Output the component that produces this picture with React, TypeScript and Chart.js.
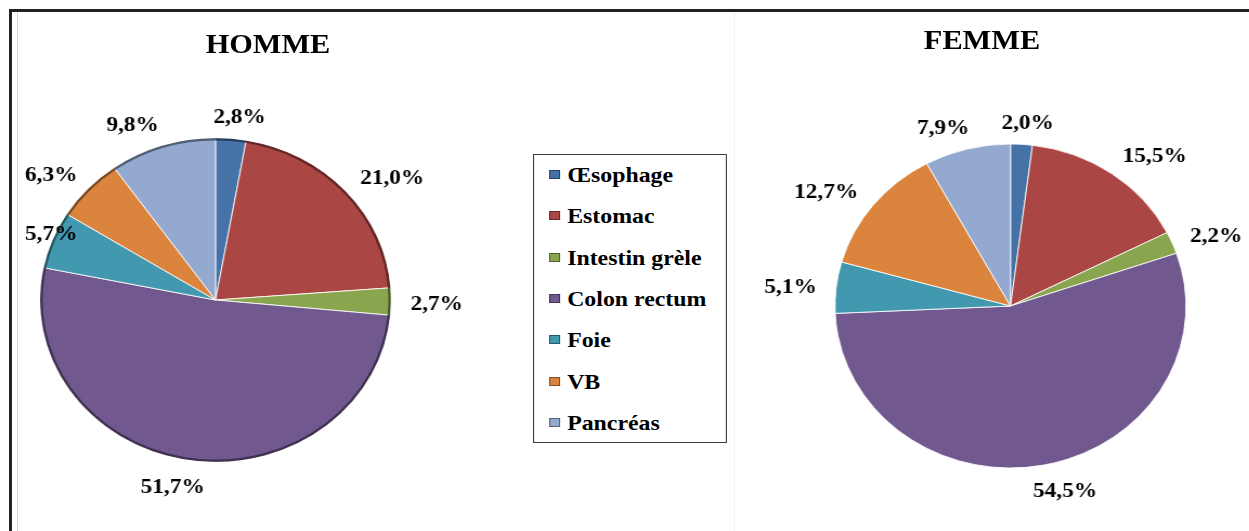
import React, { useEffect, useRef } from 'react';
import { Chart, registerables } from 'chart.js';

Chart.register(...registerables);

// ---------- data ----------
const categories = ['Œsophage', 'Estomac', 'Intestin grèle', 'Colon rectum', 'Foie', 'VB', 'Pancréas'];
const hommeValues = [2.8, 21.0, 2.7, 51.7, 5.7, 6.3, 9.8];
const femmeValues = [2.0, 15.5, 2.2, 54.5, 5.1, 12.7, 7.9];
const sliceColors = ['#4572A7', '#AA4643', '#89A54E', '#71588F', '#4198AF', '#DB843D', '#93A9CF'];
const chartTitles = ['HOMME', 'FEMME'];

// ---------- layout ----------
const STRETCH = 175.5 / 162; // the reference picture is stretched horizontally
const SCENE_W = 1249 / STRETCH;
const RADIUS = 162;
const SERIF = '"Liberation Serif", "Times New Roman", serif';

function fmt(v: number): string {
  return v.toFixed(1).replace('.', ',') + '%';
}

function darken(hex: string, k: number): string {
  const n = parseInt(hex.slice(1), 16);
  const r = Math.round(((n >> 16) & 255) * (1 - k));
  const g = Math.round(((n >> 8) & 255) * (1 - k));
  const b = Math.round((n & 255) * (1 - k));
  return `rgb(${r},${g},${b})`;
}

const pieDecor = {
  id: 'pieDecor',
  afterDatasetsDraw(chart: any, _args: any, opts: any) {
    const ctx = chart.ctx as CanvasRenderingContext2D;
    const meta = chart.getDatasetMeta(0);
    const ds = chart.data.datasets[0];
    ctx.save();
    if (opts.rim) {
      meta.data.forEach((arc: any, i: number) => {
        const p = arc.getProps(['x', 'y', 'startAngle', 'endAngle', 'outerRadius'], true);
        ctx.beginPath();
        ctx.arc(p.x, p.y, p.outerRadius - 1.3, p.startAngle, p.endAngle);
        ctx.strokeStyle = darken(ds.backgroundColor[i], 0.45);
        ctx.lineWidth = 2.2;
        ctx.stroke();
      });
    }
    ctx.font = opts.font;
    ctx.fillStyle = opts.color;
    ctx.textAlign = 'center';
    ctx.textBaseline = 'middle';
    meta.data.forEach((arc: any, i: number) => {
      const p = arc.getProps(['x', 'y', 'startAngle', 'endAngle', 'outerRadius'], true);
      const a = (p.startAngle + p.endAngle) / 2;
      const text = fmt(ds.data[i]);
      const w = ctx.measureText(text).width;
      const h = opts.lineHeight;
      const c = Math.cos(a);
      const s = Math.sin(a);
      let x = p.x + (p.outerRadius + opts.hx) * c + Math.sign(c) * (w / 2) * Math.min(1, opts.wk * Math.abs(c));
      let y = p.y + (p.outerRadius + opts.vy) * s + opts.yShift;
      x = Math.min(Math.max(x, w / 2 + opts.margin), chart.width - w / 2 - opts.margin);
      y = Math.min(Math.max(y, h / 2 + opts.margin), chart.height - h / 2 - opts.margin);
      ctx.fillText(text, x, y);
    });
    ctx.restore();
  },
};

type PieProps = {
  values: number[];
  left: number;
  top: number;
  width: number;
  height: number;
  cx: number;
  cy: number;
  rim: boolean;
};

function Pie({ values, left, top, width, height, cx, cy, rim }: PieProps) {
  const ref = useRef<HTMLCanvasElement | null>(null);
  useEffect(() => {
    if (!ref.current) return;
    const lx = cx - left;
    const ly = cy - top;
    const padL = lx > width / 2 ? 2 * (lx - width / 2) : 0;
    const padR = lx < width / 2 ? 2 * (width / 2 - lx) : 0;
    const padT = ly > height / 2 ? 2 * (ly - height / 2) : 0;
    const padB = ly < height / 2 ? 2 * (height / 2 - ly) : 0;
    const chart = new Chart(ref.current, {
      type: 'pie',
      data: {
        labels: categories,
        datasets: [
          {
            data: values,
            backgroundColor: sliceColors,
            borderColor: 'rgba(255,255,255,0.85)',
            borderWidth: 1,
            radius: RADIUS,
          } as any,
        ],
      },
      options: {
        responsive: false,
        animation: false,
        radius: RADIUS,
        layout: { padding: { left: padL, right: padR, top: padT, bottom: padB } },
        plugins: {
          legend: { display: false },
          tooltip: { enabled: false },
          title: { display: false },
          pieDecor: {
            rim,
            font: `bold 21.5px ${SERIF}`,
            color: '#000',
            lineHeight: 20,
            hx: 18,
            vy: 24,
            wk: 3,
            yShift: 3,
            margin: 6,
          },
        } as any,
      } as any,
      plugins: [pieDecor as any],
    });
    return () => chart.destroy();
  }, [values, left, top, width, height, cx, cy, rim]);
  return (
    <canvas
      ref={ref}
      width={width}
      height={height}
      style={{ position: 'absolute', left, top, width, height }}
    />
  );
}

function Legend() {
  const rowH = 41.3;
  return (
    <div
      style={{
        position: 'absolute',
        left: 533 / STRETCH,
        top: 154,
        width: (727 - 533) / STRETCH,
        height: rowH * categories.length,
        boxSizing: 'border-box',
        border: '1px solid #3a3a3a',
        background: '#fff',
      }}
    >
      {categories.map((name, i) => (
        <div
          key={name}
          style={{
            position: 'absolute',
            left: 0,
            top: i * rowH - 1,
            height: rowH,
            display: 'flex',
            alignItems: 'center',
            whiteSpace: 'nowrap',
          }}
        >
          <span
            style={{
              display: 'inline-block',
              marginLeft: 13.5,
              width: 10,
              height: 9,
              boxSizing: 'border-box',
              background: sliceColors[i],
              border: `1px solid ${darken(sliceColors[i], 0.4)}`,
            }}
          />
          <span
            style={{
              marginLeft: 7,
              fontFamily: SERIF,
              fontWeight: 'bold',
              fontSize: 22,
              lineHeight: rowH + 'px',
              color: '#000',
            }}
          >
            {name}
          </span>
        </div>
      ))}
    </div>
  );
}

function Title({ text, cx, cy }: { text: string; cx: number; cy: number }) {
  return (
    <div
      style={{
        position: 'absolute',
        left: cx - 150,
        top: cy - 14,
        width: 300,
        textAlign: 'center',
        fontFamily: SERIF,
        fontWeight: 'bold',
        fontSize: 28,
        lineHeight: '28px',
        color: '#000',
      }}
    >
      {text}
    </div>
  );
}

export default function App() {
  return (
    <div
      style={{
        position: 'absolute',
        left: 0,
        top: 0,
        width: 1249,
        height: 531,
        overflow: 'hidden',
        background: '#fff',
      }}
    >
      {/* frame lines */}
      <div style={{ position: 'absolute', left: 9, top: 9, width: 1240, height: 3, background: '#222' }} />
      <div style={{ position: 'absolute', left: 9, top: 9, width: 3, height: 522, background: '#222' }} />
      <div style={{ position: 'absolute', left: 17, top: 12, width: 1, height: 519, background: '#d4d4d4' }} />
      <div style={{ position: 'absolute', left: 734, top: 12, width: 1, height: 519, background: '#f1f1f1' }} />

      {/* stretched scene */}
      <div
        style={{
          position: 'absolute',
          left: 0,
          top: 0,
          width: SCENE_W,
          height: 531,
          transform: `scaleX(${STRETCH})`,
          transformOrigin: '0 0',
        }}
      >
        <Pie values={hommeValues} left={17} top={12} width={480} height={519} cx={215.5 / STRETCH} cy={300} rim={true} />
        <Pie values={femmeValues} left={690} top={12} width={463} height={519} cx={1010.5 / STRETCH} cy={306} rim={false} />
        <Title text={chartTitles[0]} cx={268 / STRETCH} cy={43.5} />
        <Title text={chartTitles[1]} cx={982 / STRETCH} cy={40} />
        <Legend />
      </div>
    </div>
  );
}
